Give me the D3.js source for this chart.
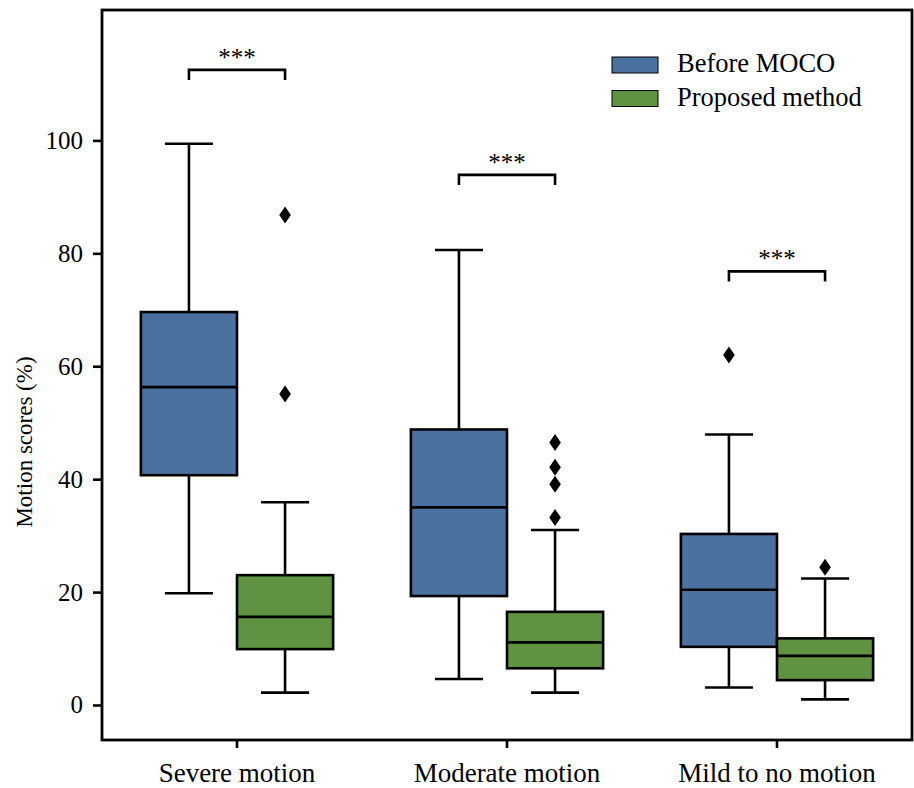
<!DOCTYPE html>
<html>
<head>
<meta charset="utf-8">
<script src="https://cdn.jsdelivr.net/npm/d3@7"></script>
<style>
body { margin: 0; background: white; }
text { font-family: "Liberation Serif", "Times New Roman", serif; fill: #000; }
</style>
</head>
<body>
<div id="chart"></div>
<script>
var categories = ['Severe motion', 'Moderate motion', 'Mild to no motion'];
var groups = ['Before MOCO', 'Proposed method'];
var groupColors = ['#4b71a0', '#5f9342'];

// [whisker low, q1, median, q3, whisker high] per category
var beforeStats = [
	[19.8, 40.7, 56.3, 69.6, 99.4],
	[4.6, 19.3, 35.0, 48.8, 80.6],
	[3.1, 10.3, 20.4, 30.3, 47.9]
];
var proposedStats = [
	[2.2, 9.9, 15.6, 23.0, 35.9],
	[2.2, 6.5, 11.1, 16.5, 31.0],
	[1.0, 4.4, 8.7, 11.8, 22.4]
];
var beforeOutliers = [[], [], [62.0]];
var proposedOutliers = [[86.8, 55.1], [46.5, 42.1, 39.1, 33.2], [24.4]];

// significance bracket heights (value units) and labels
var bracketHeights = [112.5, 93.9, 76.8];
var bracketLabels = ['***', '***', '***'];

var yTicks = [0, 20, 40, 60, 80, 100];

var margin = {top: 10, right: 2, bottom: 48, left: 102};
var width = 914 - margin.left - margin.right,
	height = 788 - margin.top - margin.bottom;

var svg = d3.select('#chart').append('svg')
	.attr('width', 914)
	.attr('height', 788);

var g = svg.append('g')
	.attr('transform', 'translate(' + margin.left + ',' + margin.top + ')');

var xScale = d3.scaleBand()
	.domain(categories)
	.range([0, width]);

var boxWidth = xScale.bandwidth() * 0.356;

var xGroup = d3.scaleBand()
	.domain(groups)
	.range([-boxWidth, boxWidth]);

var yScale = d3.scaleLinear()
	.domain([-6.2, 123.1])
	.range([height, 0]);

var boxes = [];
categories.forEach(function(c, i) {
	boxes.push({cat: c, group: groups[0], s: beforeStats[i], out: beforeOutliers[i], color: groupColors[0]});
	boxes.push({cat: c, group: groups[1], s: proposedStats[i], out: proposedOutliers[i], color: groupColors[1]});
});

function cx(d) {
	return xScale(d.cat) + xScale.bandwidth() / 2 + xGroup(d.group) + xGroup.bandwidth() / 2;
}

var lw = 2.6;

var box = g.selectAll('.box').data(boxes)
	.enter().append('g')
	.attr('class', 'box');

// whiskers
box.append('line')
	.attr('x1', cx).attr('x2', cx)
	.attr('y1', function(d) { return yScale(d.s[0]); })
	.attr('y2', function(d) { return yScale(d.s[1]); })
	.style('stroke', '#000').style('stroke-width', lw);
box.append('line')
	.attr('x1', cx).attr('x2', cx)
	.attr('y1', function(d) { return yScale(d.s[3]); })
	.attr('y2', function(d) { return yScale(d.s[4]); })
	.style('stroke', '#000').style('stroke-width', lw);

// caps
[0, 4].forEach(function(k) {
	box.append('line')
		.attr('x1', function(d) { return cx(d) - boxWidth / 4; })
		.attr('x2', function(d) { return cx(d) + boxWidth / 4; })
		.attr('y1', function(d) { return yScale(d.s[k]); })
		.attr('y2', function(d) { return yScale(d.s[k]); })
		.style('stroke', '#000').style('stroke-width', lw);
});

box.append('rect')
	.attr('x', function(d) { return cx(d) - boxWidth / 2; })
	.attr('width', boxWidth)
	.attr('y', function(d) { return yScale(d.s[3]); })
	.attr('height', function(d) { return yScale(d.s[1]) - yScale(d.s[3]); })
	.style('fill', function(d) { return d.color; })
	.style('stroke', '#000')
	.style('stroke-width', lw);

// medians
box.append('line')
	.attr('x1', function(d) { return cx(d) - boxWidth / 2; })
	.attr('x2', function(d) { return cx(d) + boxWidth / 2; })
	.attr('y1', function(d) { return yScale(d.s[2]); })
	.attr('y2', function(d) { return yScale(d.s[2]); })
	.style('stroke', '#000').style('stroke-width', lw);

// outliers (thin diamonds)
box.selectAll('.out').data(function(d) {
		return d.out.map(function(v) { return {x: cx(d), v: v}; });
	})
	.enter().append('path')
	.attr('class', 'out')
	.attr('d', 'M0,-8.5L5.8,0L0,8.5L-5.8,0Z')
	.attr('transform', function(d) { return 'translate(' + d.x + ',' + yScale(d.v) + ')'; })
	.style('fill', '#000');

// significance brackets
categories.forEach(function(c, i) {
	var x1 = cx({cat: c, group: groups[0]}),
		x2 = cx({cat: c, group: groups[1]}),
		yb = yScale(bracketHeights[i]),
		yl = yScale(bracketHeights[i] - 1.8);
	g.append('path')
		.attr('d', 'M' + x1 + ',' + yl + 'L' + x1 + ',' + yb + 'L' + x2 + ',' + yb + 'L' + x2 + ',' + yl)
		.style('fill', 'none')
		.style('stroke', '#000')
		.style('stroke-width', lw);
	g.append('text')
		.attr('x', (x1 + x2) / 2)
		.attr('y', yb - 4)
		.attr('text-anchor', 'middle')
		.style('font-size', '25px')
		.text(bracketLabels[i]);
});

// axes
var yAxis = d3.axisLeft(yScale)
	.tickValues(yTicks)
	.tickSize(9)
	.tickPadding(10);
var yGuide = g.append('g').call(yAxis);

var xAxis = d3.axisBottom(xScale)
	.tickSize(8)
	.tickPadding(15);
var xGuide = g.append('g')
	.attr('transform', 'translate(0,' + height + ')')
	.call(xAxis);

[yGuide, xGuide].forEach(function(a) {
	a.select('.domain').remove();
	a.selectAll('line').style('stroke', '#000').style('stroke-width', lw);
	a.selectAll('text').style('font-family', '"Liberation Serif", serif').style('fill', '#000');
});
yGuide.selectAll('text').style('font-size', '25px');
xGuide.selectAll('text').style('font-size', '27px');

// frame
g.append('rect')
	.attr('width', width)
	.attr('height', height)
	.style('fill', 'none')
	.style('stroke', '#000')
	.style('stroke-width', 2.8);

g.append('text')
	.attr('transform', 'translate(' + (-70) + ',' + 432 + ') rotate(-90)')
	.attr('text-anchor', 'middle')
	.style('font-size', '23px')
	.text('Motion scores (%)');

// legend
var legend = g.selectAll('.legend').data(groups)
	.enter().append('g')
	.attr('class', 'legend')
	.attr('transform', function(d, i) { return 'translate(510,' + (47 + i * 33.5) + ')'; });
legend.append('rect')
	.attr('width', 46)
	.attr('height', 16)
	.style('fill', function(d, i) { return groupColors[i]; })
	.style('stroke', '#000')
	.style('stroke-width', 1);
legend.append('text')
	.attr('x', 65)
	.attr('y', 15)
	.style('font-size', '26.5px')
	.text(function(d) { return d; });
</script>
</body>
</html>
